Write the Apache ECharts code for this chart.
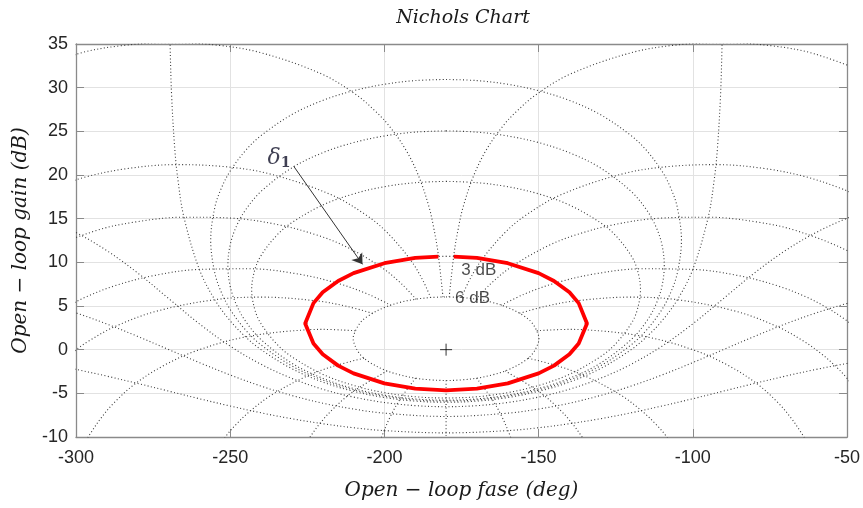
<!DOCTYPE html>
<html>
<head>
<meta charset="utf-8">
<script src="https://cdn.jsdelivr.net/npm/echarts@6/dist/echarts.min.js"></script>
<style>html,body{margin:0;padding:0;background:#fff}#c{width:863px;height:508px}</style>
</head>
<body>
<div id="c"></div>
<script>
// ---- axis ranges / ticks ----
const phaseTicks = [-300, -250, -200, -150, -100, -50];
const gainTicks = [-10, -5, 0, 5, 10, 15, 20, 25, 30, 35];

// ---- closed-loop gain (M) contours [phase deg, gain dB] ----
const m6dB = [[-180,6.04],[-175,5.97],[-170,5.77],[-165,5.41],[-160,4.83],[-155,3.92],[-152,3.01],[-150,1.60],[-149.9,1.26],[-150,0.91],[-152,-0.49],[-155,-1.40],[-160,-2.32],[-165,-2.89],[-170,-3.26],[-175,-3.46],[-180,-3.53],[-185,-3.46],[-190,-3.26],[-195,-2.89],[-200,-2.32],[-205,-1.40],[-208,-0.49],[-210,0.91],[-210.1,1.26],[-210,1.60],[-208,3.01],[-205,3.92],[-200,4.83],[-195,5.41],[-190,5.77],[-185,5.97],[-180,6.04]];
const m3dB = [[-180,10.69],[-175,10.65],[-170,10.50],[-165,10.26],[-160,9.90],[-155,9.41],[-150,8.76],[-145,7.87],[-140,6.57],[-137,5.33],[-135,3.47],[-134.9,3.02],[-135,2.57],[-137,0.71],[-140,-0.53],[-145,-1.83],[-150,-2.72],[-155,-3.37],[-160,-3.86],[-165,-4.22],[-170,-4.46],[-175,-4.60],[-180,-4.65],[-185,-4.60],[-190,-4.46],[-195,-4.22],[-200,-3.86],[-205,-3.37],[-210,-2.72],[-215,-1.83],[-220,-0.53],[-223,0.71],[-225,2.57],[-225.1,3.02],[-225,3.47],[-223,5.33],[-220,6.57],[-215,7.87],[-210,8.76],[-205,9.41],[-200,9.90],[-195,10.26],[-190,10.50],[-185,10.65],[-180,10.69]];
const m1dB = [[-180,19.27],[-170,19.12],[-160,18.66],[-150,17.84],[-140,16.56],[-130,14.55],[-125,13.06],[-120,10.77],[-118,9.17],[-116.96,6.87],[-118,4.57],[-120,2.97],[-125,0.68],[-130,-0.82],[-140,-2.82],[-150,-4.10],[-160,-4.92],[-170,-5.39],[-180,-5.53],[-190,-5.39],[-200,-4.92],[-210,-4.10],[-220,-2.82],[-230,-0.82],[-235,0.68],[-240,2.97],[-242,4.57],[-243.04,6.87],[-242,9.17],[-240,10.77],[-235,13.06],[-230,14.55],[-220,16.56],[-210,17.84],[-200,18.66],[-190,19.12],[-180,19.27]];
const m05dB = [[-180,25.05],[-170,24.91],[-160,24.47],[-150,23.71],[-140,22.55],[-130,20.82],[-120,18.12],[-115,16.01],[-112,14.12],[-110,12.01],[-109.25,9.63],[-110,7.26],[-112,5.15],[-115,3.25],[-120,1.15],[-130,-1.55],[-140,-3.28],[-150,-4.45],[-160,-5.20],[-170,-5.64],[-180,-5.78],[-190,-5.64],[-200,-5.20],[-210,-4.45],[-220,-3.28],[-230,-1.55],[-240,1.15],[-245,3.25],[-248,5.15],[-250,7.26],[-250.75,9.63],[-250,12.01],[-248,14.12],[-245,16.01],[-240,18.12],[-230,20.82],[-220,22.55],[-210,23.71],[-200,24.47],[-190,24.91],[-180,25.05]];
const m025dB = [[-180,30.94],[-170,30.81],[-160,30.39],[-150,29.65],[-140,28.54],[-130,26.92],[-120,24.51],[-115,22.81],[-110,20.45],[-107,18.38],[-105,16.26],[-103.68,12.53],[-105,8.80],[-107,6.68],[-110,4.60],[-115,2.25],[-120,0.55],[-130,-1.86],[-140,-3.48],[-150,-4.60],[-160,-5.32],[-170,-5.75],[-180,-5.88],[-190,-5.75],[-200,-5.32],[-210,-4.60],[-220,-3.48],[-230,-1.86],[-240,0.55],[-245,2.25],[-250,4.60],[-253,6.68],[-255,8.80],[-256.32,12.53],[-255,16.26],[-253,18.38],[-250,20.45],[-245,22.81],[-240,24.51],[-230,26.92],[-220,28.54],[-210,29.65],[-200,30.39],[-190,30.81],[-180,30.94]];
const m0dB = [[-269.7,39.6],[-269.5,35.16],[-269,29.14],[-268,23.12],[-267,19.60],[-265,15.17],[-260,9.19],[-255,5.72],[-250,3.30],[-245,1.46],[-240,0],[-230,-2.18],[-220,-3.71],[-210,-4.77],[-200,-5.48],[-190,-5.89],[-180,-6.02],[-170,-5.89],[-160,-5.48],[-150,-4.77],[-140,-3.71],[-130,-2.18],[-120,0],[-115,1.46],[-110,3.30],[-105,5.72],[-100,9.19],[-95,15.17],[-93,19.60],[-92,23.12],[-91,29.14],[-90.5,35.16],[-90.3,39.6]];
const mMinus1dB = [[-310,15.04],[-300,13.42],[-290,11.34],[-280,8.78],[-270,5.87],[-260,2.96],[-250,0.40],[-240,-1.67],[-230,-3.29],[-220,-4.53],[-210,-5.43],[-200,-6.05],[-190,-6.41],[-180,-6.53],[-170,-6.41],[-160,-6.05],[-150,-5.43],[-140,-4.53],[-130,-3.29],[-120,-1.67],[-110,0.40],[-100,2.96],[-90,5.87],[-80,8.78],[-70,11.34],[-60,13.42],[-50,15.04],[-40,16.27]];
const mMinus3dB = [[-320,6.16],[-310,5.29],[-300,4.21],[-290,2.94],[-280,1.52],[-270,0.02],[-260,-1.48],[-250,-2.90],[-240,-4.17],[-230,-5.25],[-220,-6.13],[-210,-6.80],[-200,-7.27],[-180,-7.65],[-160,-7.27],[-150,-6.80],[-140,-6.13],[-130,-5.25],[-120,-4.17],[-110,-2.90],[-100,-1.48],[-90,0.02],[-80,1.52],[-70,2.94],[-60,4.21],[-50,5.29],[-40,6.16]];
const mMinus6dB = [[-320,-1.01],[-310,-1.58],[-300,-2.26],[-290,-3.03],[-280,-3.87],[-270,-4.74],[-260,-5.62],[-250,-6.45],[-240,-7.23],[-230,-7.91],[-220,-8.48],[-210,-8.94],[-200,-9.27],[-180,-9.53],[-160,-9.27],[-150,-8.94],[-140,-8.48],[-130,-7.91],[-120,-7.23],[-110,-6.45],[-100,-5.62],[-90,-4.74],[-80,-3.87],[-70,-3.03],[-60,-2.26],[-50,-1.58],[-40,-1.01]];

// ---- closed-loop phase (N) contours ----
const n1 = [[-179.0,6.02],[-177.4,11.05],[-176.0,13.95],[-174.4,16.43],[-171.1,19.88],[-167.0,22.85],[-161.7,25.55],[-157.3,27.23],[-150.7,29.23],[-139.7,31.56],[-120.4,33.96],[-106.5,34.84],[-90.5,35.16],[-74.5,34.80],[-60.8,33.90],[-41.9,31.48]];
const n359 = [[-181.0,6.02],[-182.6,11.05],[-184.0,13.95],[-185.6,16.43],[-188.9,19.88],[-193.0,22.85],[-198.3,25.55],[-202.7,27.23],[-209.3,29.23],[-220.3,31.56],[-239.6,33.96],[-253.5,34.84],[-269.5,35.16],[-285.5,34.80],[-299.2,33.90],[-318.1,31.48]];
const n5 = [[-175.0,5.95],[-172.6,7.84],[-168.6,10.21],[-161.05,13.36],[-154.2,15.38],[-142.8,17.73],[-122.9,20.12],[-108.7,20.94],[-92.5,21.19],[-76.7,20.74],[-63.3,19.79],[-51.1,18.35],[-45.0,17.36]];
const n355 = [[-185.0,5.95],[-187.4,7.84],[-191.4,10.21],[-198.95,13.36],[-205.8,15.38],[-217.2,17.73],[-237.1,20.12],[-251.3,20.94],[-267.5,21.19],[-283.3,20.74],[-296.7,19.79],[-308.9,18.35],[-315.0,17.36]];
const n10 = [[-170.3,5.76],[-165.7,7.49],[-158.6,9.54],[-146.8,11.92],[-137.8,13.16],[-126.0,14.28],[-111.3,15.04],[-95.0,15.17],[-79.4,14.63],[-66.4,13.62],[-48.9,11.17],[-38.9,8.88]];
const n350 = [[-189.7,5.76],[-194.3,7.49],[-201.4,9.54],[-213.2,11.92],[-222.2,13.16],[-234.0,14.28],[-248.7,15.04],[-265.0,15.17],[-280.6,14.63],[-293.6,13.62],[-311.1,11.17],[-321.1,8.88]];
const n20 = [[-162.1,5.08],[-154.8,6.34],[-145.0,7.58],[-132.2,8.65],[-116.6,9.26],[-100.0,9.19],[-84.9,8.46],[-72.7,7.33],[-63.5,6.08],[-56.6,4.83],[-51.4,3.66],[-47.4,2.57],[-41.7,0.67]];
const n340 = [[-197.9,5.08],[-205.2,6.34],[-215.0,7.58],[-227.8,8.65],[-243.4,9.26],[-260.0,9.19],[-275.1,8.46],[-287.3,7.33],[-296.5,6.08],[-303.4,4.83],[-308.6,3.66],[-312.6,2.57],[-318.3,0.67]];
const n30 = [[-156.2,4.16],[-148.0,4.94],[-138.4,5.57],[-120.0,6.02],[-105.0,5.72],[-86.3,4.42],[-73.1,2.72],[-64.3,1.03],[-58.2,-0.50],[-53.8,-1.86],[-50.5,-3.07],[-48.05,-4.16],[-44.5,-6.01],[-40.7,-8.57]];
const n330 = [[-203.8,4.16],[-212.0,4.94],[-221.6,5.57],[-240.0,6.02],[-255.0,5.72],[-273.7,4.42],[-286.9,2.72],[-295.7,1.03],[-301.8,-0.50],[-306.2,-1.86],[-309.5,-3.07],[-311.95,-4.16],[-315.5,-6.01],[-319.3,-8.57]];
const n50 = [[-150.6,2.17],[-140.0,2.32],[-135.7,2.29],[-115.0,1.46],[-99.4,-0.08],[-88.7,-1.77],[-79.4,-3.85],[-72.4,-6.06],[-68.0,-7.88],[-65.0,-9.42],[-63.6,-10.23],[-61.2,-11.89]];
const n310 = [[-209.4,2.17],[-220.0,2.32],[-224.3,2.29],[-245.0,1.46],[-260.6,-0.08],[-271.3,-1.77],[-280.6,-3.85],[-287.6,-6.06],[-292.0,-7.88],[-295.0,-9.42],[-296.4,-10.23],[-298.8,-11.89]];
const n90 = [[-153.4,-0.97],[-143.1,-1.94],[-135.0,-3.01],[-123.7,-5.12],[-116.6,-6.99],[-111.8,-8.60],[-108.4,-10.0],[-104.0,-12.3]];
const n270 = [[-206.6,-0.97],[-216.9,-1.94],[-225.0,-3.01],[-236.3,-5.12],[-243.4,-6.99],[-248.2,-8.60],[-251.6,-10.0],[-256.0,-12.3]];
const n120 = [[-160.9,-2.43],[-150.0,-4.77],[-143.4,-6.77],[-139.1,-8.45],[-136.1,-9.89],[-133.9,-11.14]];
const n240 = [[-199.1,-2.43],[-210.0,-4.77],[-216.6,-6.77],[-220.9,-8.45],[-223.9,-9.89],[-226.1,-11.14]];
const n150 = [[-170.1,-3.26],[-165.0,-5.72],[-161.9,-7.67],[-159.9,-9.28],[-158.4,-10.64]];
const n210 = [[-189.9,-3.26],[-195.0,-5.72],[-198.1,-7.67],[-200.1,-9.28],[-201.6,-10.64]];
const n180 = [[-180,-3.52],[-180,-11]];

// ---- delta_1 curve (red) ----
const delta1 = [[-177.5,10.66],[-170,10.50],[-160,9.90],[-150,8.76],[-145,7.87],[-140,6.57],[-137,5.33],[-134.3,3.0],[-137,0.71],[-140,-0.53],[-145,-1.83],[-150,-2.72],[-160,-3.86],[-170,-4.46],[-180,-4.65],[-190,-4.46],[-200,-3.86],[-210,-2.72],[-215,-1.83],[-220,-0.53],[-223,0.71],[-225.7,3.0],[-223,5.33],[-220,6.57],[-215,7.87],[-210,8.76],[-200,9.90],[-190,10.50],[-182.5,10.66]];

// ---- annotations ----
const criticalPoint = [[-180, 0]];
const contourLabels = [[-169.4, 9.1, '3 dB'], [-171.4, 5.9, '6 dB']];
const deltaLabel = [[-234.2, 21.9]];
const arrowFrom = [-229.4, 21.0];
const arrowTo = [-207.1, 9.77];

const gridCurves = [m6dB, m3dB, m1dB, m05dB, m025dB, m0dB, mMinus1dB, mMinus3dB, mMinus6dB,
  n1, n359, n5, n355, n10, n350, n20, n340, n30, n330, n50, n310, n90, n270, n120, n240, n150, n210, n180];

const dotted = { color: '#3a3a3a', width: 1.1, type: [1, 2.4] };
const series = gridCurves.map(d => ({
  type: 'line', data: d, showSymbol: false, smooth: 0.35, silent: true,
  lineStyle: dotted, z: 2, clip: true
}));

series.push({
  type: 'line', data: delta1, showSymbol: false, smooth: false, silent: true,
  lineStyle: { color: '#ff0000', width: 3.8 }, z: 5, clip: true
});
series.push({
  type: 'scatter', data: criticalPoint, silent: true, z: 6,
  symbol: 'path://M0,10L20,10M10,0L10,20', symbolSize: 12,
  itemStyle: { color: 'rgba(0,0,0,0)', borderColor: '#000', borderWidth: 1 }
});
series.push({
  type: 'scatter', data: contourLabels, symbolSize: 0, silent: true, z: 6,
  label: { show: true, position: 'inside', formatter: p => p.data[2],
    fontFamily: 'Liberation Sans, Arial, sans-serif', fontSize: 17, color: '#1e1e1e' }
});
series.push({
  type: 'scatter', data: deltaLabel, symbolSize: 0, silent: true, z: 6,
  label: { show: true, position: 'inside', formatter: '{d|δ}{s|1}',
    rich: {
      d: { fontFamily: 'DejaVu Serif', fontStyle: 'italic', fontSize: 22, color: '#101028' },
      s: { fontFamily: 'DejaVu Serif', fontWeight: 'bold', fontSize: 14, color: '#101028', padding: [10, 0, 0, 0] }
    } }
});
series.push({
  type: 'line', data: [], silent: true, z: 6,
  markLine: {
    silent: true, symbol: ['none', 'arrow'], symbolSize: 10, animation: false,
    label: { show: false },
    lineStyle: { color: '#333', width: 1, type: 'solid' },
    data: [[{ coord: arrowFrom }, { coord: arrowTo }]]
  }
});

const axisFont = { fontFamily: 'Liberation Sans, Arial, sans-serif', fontSize: 18, color: '#262626' };
const frame = { show: true, onZero: false, lineStyle: { color: '#8a8a8a', width: 1.3 } };
const ticksIn = { show: true, inside: true, length: 8, lineStyle: { color: '#8a8a8a', width: 1 } };
const nameFont = { fontFamily: 'DejaVu Serif', fontStyle: 'italic', fontSize: 20, color: '#1a1a1a' };

const chart = echarts.init(document.getElementById('c'), null, { renderer: 'canvas' });
chart.setOption({
  animation: false,
  backgroundColor: '#fff',
  title: {
    text: 'Nichols Chart', left: 458, top: 4, textAlign: 'center',
    textStyle: { fontFamily: 'DejaVu Serif', fontStyle: 'italic', fontWeight: 'normal', fontSize: 19, color: '#1a1a1a' }
  },
  grid: { left: 76, top: 44, width: 771, height: 393, containLabel: false },
  xAxis: [
    { type: 'value', min: phaseTicks[0], max: phaseTicks[phaseTicks.length - 1], interval: 50,
      position: 'bottom', axisLine: frame, axisTick: ticksIn,
      axisLabel: Object.assign({ margin: 12 }, axisFont),
      splitLine: { show: true, lineStyle: { color: '#e2e2e2', width: 1 } },
      name: 'Open − loop fase (deg)', nameLocation: 'middle', nameGap: 44, nameTextStyle: nameFont },
    { type: 'value', min: phaseTicks[0], max: phaseTicks[phaseTicks.length - 1], interval: 50,
      position: 'top', axisLine: frame, axisTick: ticksIn, axisLabel: { show: false }, splitLine: { show: false } }
  ],
  yAxis: [
    { type: 'value', min: gainTicks[0], max: gainTicks[gainTicks.length - 1], interval: 5,
      position: 'left', axisLine: frame, axisTick: ticksIn,
      axisLabel: Object.assign({ margin: 8 }, axisFont),
      splitLine: { show: true, lineStyle: { color: '#e2e2e2', width: 1 } },
      name: 'Open − loop gain (dB)', nameLocation: 'middle', nameGap: 44, nameTextStyle: nameFont },
    { type: 'value', min: gainTicks[0], max: gainTicks[gainTicks.length - 1], interval: 5,
      position: 'right', axisLine: frame, axisTick: ticksIn, axisLabel: { show: false }, splitLine: { show: false } }
  ],
  series: series
});
</script>
</body>
</html>
